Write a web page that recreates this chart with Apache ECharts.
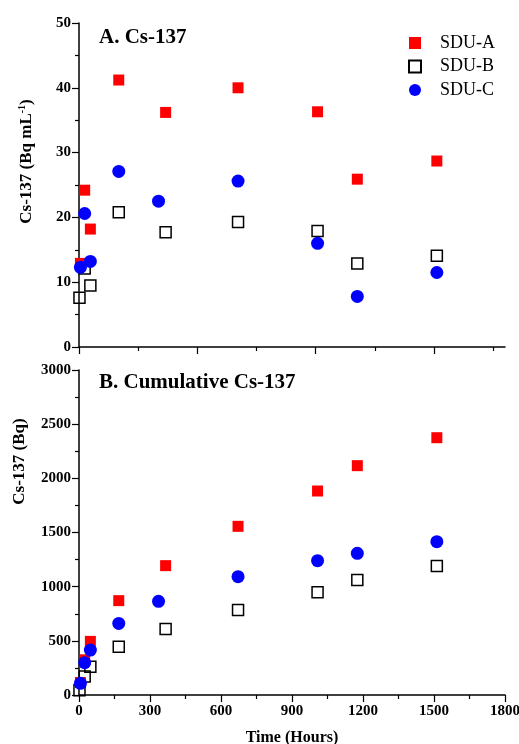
<!DOCTYPE html>
<html>
<head>
<meta charset="utf-8">
<script src="https://cdn.jsdelivr.net/npm/echarts@6/dist/echarts.min.js"></script>
<style>
  html, body { margin: 0; padding: 0; background: #fff; }
  #chart { width: 519px; height: 744px; }
</style>
</head>
<body>
<div id="chart"></div>
<script>
// sampling times (hours)
var timeA = [6, 24, 48, 168, 366, 672, 1008, 1176, 1512];
var timeB = [2, 24, 48, 168, 366, 672, 1008, 1176, 1512];
var timeC = [6, 24, 48, 168, 336, 672, 1008, 1176, 1512];

// A. Cs-137 concentration (Bq mL-1)
var concA = [12.9, 24.2, 18.2, 41.2, 36.2, 40.0, 36.3, 25.9, 28.7];
var concB = [7.6, 12.1, 9.5, 20.8, 17.7, 19.3, 17.9, 12.9, 14.1];
var concC = [12.3, 20.6, 13.2, 27.1, 22.5, 25.6, 16.0, 7.8, 11.5];

// B. cumulative Cs-137 (Bq)
var cumA = [115, 325, 495, 871, 1194, 1557, 1883, 2117, 2375];
var cumB = [45, 170, 261, 446, 609, 785, 948, 1062, 1191];
var cumC = [108, 298, 415, 661, 865, 1092, 1240, 1308, 1415];

var seriesNames = ['SDU-A', 'SDU-B', 'SDU-C'];

var font = '"Liberation Serif", "Times New Roman", serif';

function pairs(xs, ys) {
    return xs.map(function (x, i) { return [x, ys[i]]; });
}

var styleA = { symbol: 'rect', symbolSize: 11, itemStyle: { color: '#ff0000', opacity: 1 } };
var styleB = { symbol: 'rect', symbolSize: 11, itemStyle: { color: 'transparent', borderColor: '#000', borderWidth: 1.5, opacity: 1 } };
var styleC = { symbol: 'circle', symbolSize: 13, itemStyle: { color: '#0000ff', opacity: 1 } };

function scatter(name, style, data, idx) {
    return Object.assign({
        name: name,
        type: 'scatter',
        xAxisIndex: idx,
        yAxisIndex: idx,
        data: data
    }, style);
}

var axisLine = { lineStyle: { color: '#000', width: 1.5 } };
var tickLabel = {
    color: '#000', fontFamily: font, fontWeight: 'bold', fontSize: 15,
    formatter: function (v) { return String(v); }
};

var chart = echarts.init(document.getElementById('chart'));

var option = {
    animation: false,
    title: [
        { text: 'A. Cs-137', left: 94, top: 22, textStyle: { fontFamily: font, fontWeight: 'bold', fontSize: 21, color: '#000' } },
        { text: 'B. Cumulative Cs-137', left: 94, top: 367, textStyle: { fontFamily: font, fontWeight: 'bold', fontSize: 21, color: '#000' } }
    ],
    legend: {
        data: seriesNames,
        orient: 'vertical',
        left: 403,
        top: 29,
        itemWidth: 12,
        itemHeight: 12,
        itemGap: 5.5,
        textStyle: { fontFamily: font, fontSize: 18, color: '#000', padding: [0, 0, 0, 14] }
    },
    grid: [
        { left: 79, right: 14, top: 23, height: 324, outerBoundsMode: 'none' },
        { left: 79, right: 14, top: 370, height: 325, outerBoundsMode: 'none' }
    ],
    xAxis: [
        {
            gridIndex: 0, type: 'value', position: 'bottom', min: 0, max: 1800, interval: 250,
            axisLine: axisLine,
            axisTick: { customValues: [0, 500, 1000, 1500], length: 7, lineStyle: { color: '#000', width: 1.2 } },
            axisLabel: { show: false },
            splitLine: { show: false }
        },
        {
            gridIndex: 1, type: 'value', min: 0, max: 1800, interval: 300,
            name: 'Time (Hours)', nameLocation: 'middle', nameGap: 35,
            nameTextStyle: { fontFamily: font, fontWeight: 'bold', fontSize: 16, color: '#000' },
            axisLine: axisLine,
            axisTick: { length: 7, lineStyle: { color: '#000', width: 1.2 } },
            minorTick: { show: true, splitNumber: 2, length: 4, lineStyle: { color: '#000', width: 1.2 } },
            axisLabel: Object.assign({ margin: 9 }, tickLabel),
            splitLine: { show: false }
        },
        {
            // minor ticks of the upper panel
            gridIndex: 0, type: 'value', position: 'bottom', offset: 0, min: 0, max: 1800, interval: 250,
            axisLine: { show: false },
            axisTick: { customValues: [250, 750, 1250, 1750], length: 4, lineStyle: { color: '#000', width: 1.2 } },
            axisLabel: { show: false },
            splitLine: { show: false }
        }
    ],
    yAxis: [
        {
            gridIndex: 0, type: 'value', min: 0, max: 50, interval: 10,
            name: 'Cs-137 (Bq mL{sup|-1})', nameLocation: 'middle', nameGap: 42,
            nameTextStyle: {
                fontFamily: font, fontWeight: 'bold', fontSize: 17, color: '#000',
                lineHeight: 20, padding: [0, 0, 0, 47],
                rich: { sup: { fontFamily: font, fontWeight: 'bold', fontSize: 10, lineHeight: 20, verticalAlign: 'top', color: '#000', padding: [0, 0, 8, 0] } }
            },
            axisLine: axisLine,
            axisTick: { length: 7, lineStyle: { color: '#000', width: 1.2 } },
            minorTick: { show: true, splitNumber: 2, length: 4, lineStyle: { color: '#000', width: 1.2 } },
            axisLabel: Object.assign({ margin: 8 }, tickLabel),
            splitLine: { show: false }
        },
        {
            gridIndex: 1, type: 'value', min: 0, max: 3000, interval: 500,
            name: 'Cs-137 (Bq)', nameLocation: 'middle', nameGap: 51,
            nameTextStyle: { fontFamily: font, fontWeight: 'bold', fontSize: 17, color: '#000', padding: [0, 0, 0, 142] },
            axisLine: axisLine,
            axisTick: { length: 7, lineStyle: { color: '#000', width: 1.2 } },
            minorTick: { show: true, splitNumber: 2, length: 4, lineStyle: { color: '#000', width: 1.2 } },
            axisLabel: Object.assign({ margin: 8 }, tickLabel),
            splitLine: { show: false }
        }
    ],
    series: [
        scatter('SDU-A', styleA, pairs(timeA, concA), 0),
        scatter('SDU-B', styleB, pairs(timeB, concB), 0),
        scatter('SDU-C', styleC, pairs(timeC, concC), 0),
        scatter('SDU-A', styleA, pairs(timeA, cumA), 1),
        scatter('SDU-B', styleB, pairs(timeB, cumB), 1),
        scatter('SDU-C', styleC, pairs(timeC, cumC), 1)
    ]
};

chart.setOption(option);
</script>
</body>
</html>
